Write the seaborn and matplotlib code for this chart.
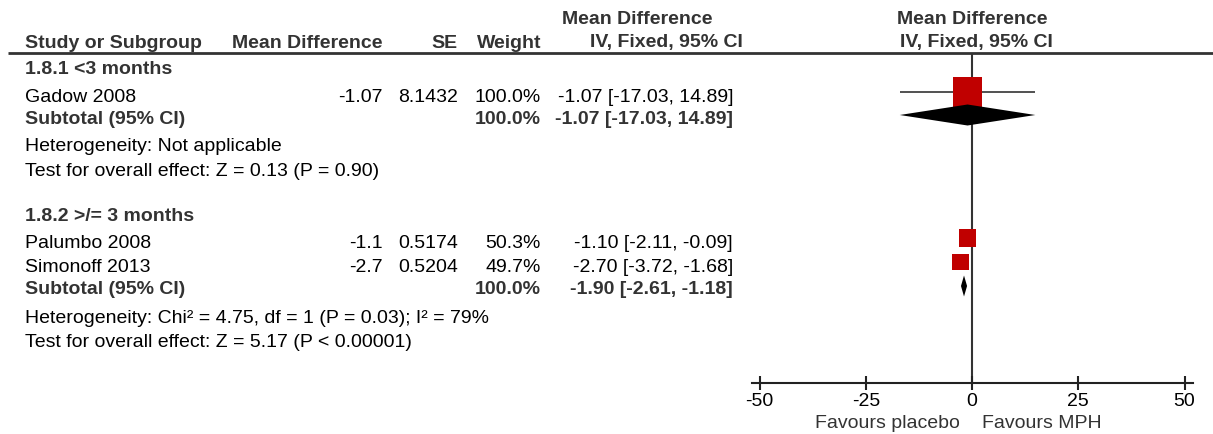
import numpy as np
import pandas as pd
import seaborn as sns
import matplotlib.pyplot as plt

sns.set_style('white')
plt.rcParams['font.family'] = ['Liberation Sans', 'DejaVu Sans']

# ---- data ----
subgroups = ['1.8.1 <3 months', '1.8.2 >/= 3 months']
studies = ['Gadow 2008', 'Palumbo 2008', 'Simonoff 2013']
md = [-1.07, -1.1, -2.7]
se = [8.1432, 0.5174, 0.5204]
weight = [100.0, 50.3, 49.7]
ci_lo = [-17.03, -2.11, -3.72]
ci_hi = [14.89, -0.09, -1.68]
sub_md = [-1.07, -1.90]
sub_lo = [-17.03, -2.61]
sub_hi = [14.89, -1.18]
sub_weight = [100.0, 100.0]
het_text = ['Heterogeneity: Not applicable',
            'Heterogeneity: Chi² = 4.75, df = 1 (P = 0.03); I² = 79%']
test_text = ['Test for overall effect: Z = 0.13 (P = 0.90)',
             'Test for overall effect: Z = 5.17 (P < 0.00001)']
xticks = [-50, -25, 0, 25, 50]
favours = ['Favours placebo', 'Favours MPH']

# ---- layout (pixel coords, y down) ----
W, H = 1213, 435
FS = 14.0
TXT_DY = 2
BOLD_C = '#333333'
RED = '#c00000'
group_rows = [[68, 96, 117, 145, 170], [215, 0, 288, 317, 341]]
study_rows = [96, 242, 266]
sub_rows = [117, 288]
X_NAME, X_MD, X_SE, X_W, X_CI = 25, 383, 458, 541, 733

fig = plt.figure(figsize=(W / 100, H / 100), dpi=100)
bg = fig.add_axes([0, 0, 1, 1])
bg.set_xlim(0, W)
bg.set_ylim(H, 0)
bg.axis('off')


def txt(x, y, s, ha='left', bold=False, color=None):
    bg.text(x, y + TXT_DY, s, ha=ha, va='center', fontsize=FS,
            fontweight='bold' if bold else 'normal',
            color=color or (BOLD_C if bold else 'black'))


# headers
txt(X_NAME, 41, 'Study or Subgroup', bold=True)
txt(X_MD, 41, 'Mean Difference', ha='right', bold=True)
txt(X_SE, 41, 'SE', ha='right', bold=True)
txt(X_W, 41, 'Weight', ha='right', bold=True)
txt(637, 17, 'Mean Difference', ha='center', bold=True)
txt(666, 41, 'IV, Fixed, 95% CI', ha='center', bold=True)
txt(972, 17, 'Mean Difference', ha='center', bold=True)
txt(976, 41, 'IV, Fixed, 95% CI', ha='center', bold=True)
bg.plot([8, W], [54, 54], color='#333333', lw=2, solid_capstyle='butt')

for g, name in enumerate(subgroups):
    rows = group_rows[g]
    txt(X_NAME, rows[0], name, bold=True)
    txt(X_NAME, rows[2], 'Subtotal (95% CI)', bold=True)
    txt(X_W, rows[2], f'{sub_weight[g]:.1f}%', ha='right', bold=True)
    txt(X_CI, rows[2], f'{sub_md[g]:.2f} [{sub_lo[g]:.2f}, {sub_hi[g]:.2f}]',
        ha='right', bold=True)
    txt(X_NAME, rows[3], het_text[g])
    txt(X_NAME, rows[4], test_text[g])

for i, name in enumerate(studies):
    y = study_rows[i]
    txt(X_NAME, y, name)
    txt(X_MD, y, str(md[i]), ha='right')
    txt(X_SE, y, str(se[i]), ha='right')
    txt(X_W, y, f'{weight[i]:.1f}%', ha='right')
    txt(X_CI, y, f'{md[i]:.2f} [{ci_lo[i]:.2f}, {ci_hi[i]:.2f}]', ha='right')

# ---- forest panel ----
ax = fig.add_axes([752 / W, (H - 384) / H, (1193 - 752) / W, (384 - 54) / H])
ax.set_xlim(-51.8, 52)
ax.set_ylim(384, 54)
ax.patch.set_alpha(0)
ax.axvline(0, color='#333333', lw=1.5, zorder=0.5)

mark_y = [y - 3 for y in study_rows]
ax.hlines(mark_y, ci_lo, ci_hi, color='#333333', lw=1.2, zorder=1)

df = pd.DataFrame({'study': studies, 'md': md, 'weight': weight, 'y': mark_y})
side_pt = 21.3 * (df['weight'] / 100) ** 0.8
sns.scatterplot(data=df, x='md', y='y', marker='s', color=RED,
                s=side_pt ** 2, linewidth=0, legend=False, ax=ax, zorder=3)

for g in range(len(sub_md)):
    y = sub_rows[g] - 1
    ax.fill([sub_lo[g], sub_md[g], sub_hi[g], sub_md[g]],
            [y, y - 10.5, y, y + 10.5], color='black', lw=0, zorder=4)

for side in ['left', 'right', 'top']:
    ax.spines[side].set_visible(False)
ax.spines['bottom'].set_linewidth(1.5)
ax.spines['bottom'].set_color('#222222')
ax.set_xticks(xticks)
ax.set_xticklabels([str(t) for t in xticks])
ax.set_yticks([])
ax.tick_params(axis='x', direction='inout', length=10, width=1.5,
               colors='#222222', labelcolor='black', labelsize=FS, pad=1.5,
               bottom=True)
ax.set_xlabel('')
ax.set_ylabel('')

txt(960, 422, favours[0], ha='right', color=BOLD_C)
txt(982, 422, favours[1], ha='left', color=BOLD_C)

fig.savefig('out.png', dpi=100)
